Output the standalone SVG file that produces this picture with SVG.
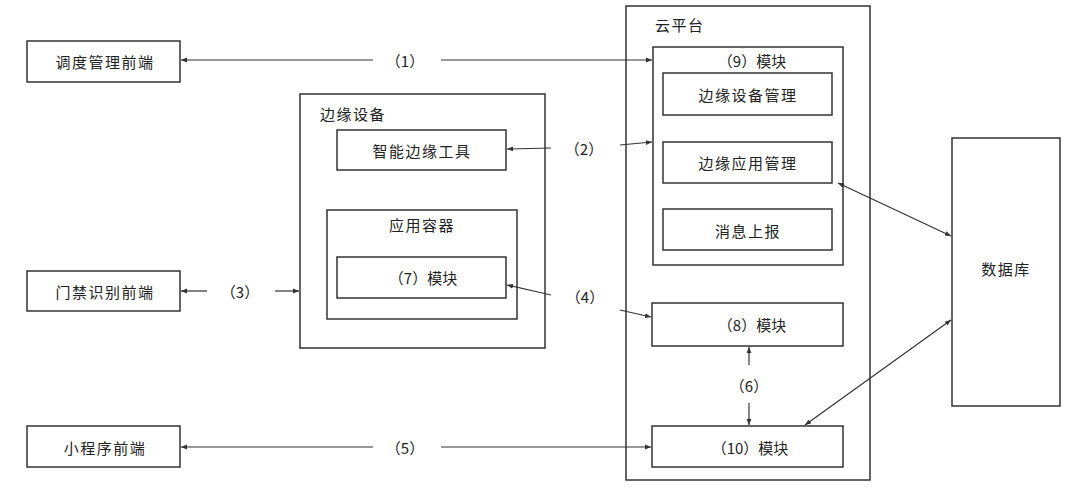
<svg xmlns="http://www.w3.org/2000/svg" width="1076" height="490" viewBox="0 0 1076 490">
<style>
.box{fill:#fff;stroke:#333;stroke-width:1.5}
.t{font-family:"Noto Sans CJK SC","Noto Sans",sans-serif;font-size:15px;fill:#222;text-anchor:middle;dominant-baseline:central}
.sp{letter-spacing:1.5px}
.tl{text-anchor:start}
.ln{stroke:#333;stroke-width:1.2;fill:none}
.arr{marker-end:url(#ah)}
.both{marker-start:url(#ahs);marker-end:url(#ah)}
</style>
<defs>
<marker id="ah" viewBox="0 0 10 10" refX="10" refY="5" markerWidth="6" markerHeight="6" markerUnits="userSpaceOnUse" orient="auto"><path d="M0,1 L10,5 L0,9 z" fill="#333"/></marker>
<marker id="ahs" viewBox="0 0 10 10" refX="0" refY="5" markerWidth="6" markerHeight="6" markerUnits="userSpaceOnUse" orient="auto"><path d="M10,1 L0,5 L10,9 z" fill="#333"/></marker>
</defs>
<rect width="1076" height="490" fill="#fff"/>
<g id="cloud">
<rect class="box" x="626" y="6" width="244" height="474"/>
<text class="t tl sp" x="655" y="24">云平台</text>
</g>
<g id="module9">
<rect class="box" x="653" y="47" width="190" height="218"/>
<text class="t" x="752" y="60">（9）模块</text>
</g>
<g id="edgeDeviceMgmt"><rect class="box" x="663" y="73" width="169" height="42"/><text class="t sp" x="748" y="94">边缘设备管理</text></g>
<g id="edgeAppMgmt"><rect class="box" x="663" y="142" width="169" height="41"/><text class="t sp" x="748" y="162">边缘应用管理</text></g>
<g id="msgReport"><rect class="box" x="663" y="209" width="169" height="41"/><text class="t sp" x="748" y="230">消息上报</text></g>
<g id="module8"><rect class="box" x="652" y="303" width="191" height="43"/><text class="t" x="752" y="324">（8）模块</text></g>
<g id="module10"><rect class="box" x="652" y="426" width="191" height="41"/><text class="t" x="750" y="447">（10）模块</text></g>
<g id="edge">
<rect class="box" x="300" y="94" width="245" height="254"/>
<text class="t tl sp" x="320" y="113">边缘设备</text>
</g>
<g id="smartTool"><rect class="box" x="337" y="130" width="169" height="40"/><text class="t sp" x="422" y="150">智能边缘工具</text></g>
<g id="container">
<rect class="box" x="327" y="210" width="190" height="109"/>
<text class="t sp" x="422" y="224">应用容器</text>
</g>
<g id="module7"><rect class="box" x="337" y="257" width="169" height="41"/><text class="t" x="423" y="277">（7）模块</text></g>
<g id="dispatch"><rect class="box" x="27" y="41" width="153" height="41"/><text class="t sp" x="105" y="61">调度管理前端</text></g>
<g id="access"><rect class="box" x="27" y="271" width="153" height="40"/><text class="t sp" x="105" y="291">门禁识别前端</text></g>
<g id="miniapp"><rect class="box" x="27" y="426" width="153" height="41"/><text class="t sp" x="105" y="447">小程序前端</text></g>
<g id="db"><rect class="box" x="952" y="138" width="108" height="268"/><text class="t sp" x="1006" y="268">数据库</text></g>
<g id="connectors">
<line class="ln arr" x1="373" y1="60" x2="181" y2="60"/>
<line class="ln arr" x1="441" y1="60" x2="652" y2="60"/>
<text class="t" x="405" y="60">（1）</text>
<line class="ln arr" x1="551" y1="148" x2="507" y2="149"/>
<line class="ln arr" x1="620" y1="145" x2="652" y2="142"/>
<text class="t" x="584" y="148">（2）</text>
<line class="ln arr" x1="207" y1="291" x2="181" y2="291"/>
<line class="ln arr" x1="275" y1="291" x2="299" y2="291"/>
<text class="t" x="240" y="291">（3）</text>
<line class="ln arr" x1="551" y1="295" x2="507" y2="285"/>
<line class="ln arr" x1="620" y1="310" x2="651" y2="317"/>
<text class="t" x="585" y="296">（4）</text>
<line class="ln arr" x1="373" y1="447" x2="181" y2="447"/>
<line class="ln arr" x1="441" y1="447" x2="651" y2="447"/>
<text class="t" x="405" y="447">（5）</text>
<line class="ln arr" x1="749" y1="365" x2="749" y2="347"/>
<line class="ln arr" x1="749" y1="403" x2="749" y2="425"/>
<text class="t" x="749" y="385">（6）</text>
<line class="ln both" x1="838" y1="183" x2="951" y2="236"/>
<line class="ln both" x1="805" y1="425" x2="951" y2="320"/>
</g>
</svg>
